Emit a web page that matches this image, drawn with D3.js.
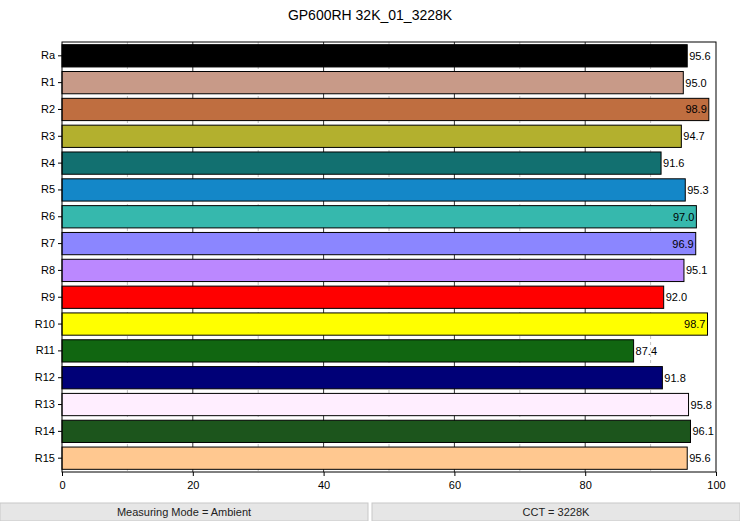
<!DOCTYPE html>
<html><head><meta charset="utf-8">
<script src="https://cdn.jsdelivr.net/npm/d3@7"></script>
<style>body{margin:0;background:#fff;font-family:"Helvetica Neue",Arial,"Liberation Sans",sans-serif}</style>
</head><body>
<svg id="c" width="740" height="521"></svg>
<script>
var names = ["Ra","R1","R2","R3","R4","R5","R6","R7","R8","R9","R10","R11","R12","R13","R14","R15"];
var values = [95.6,95.0,98.9,94.7,91.6,95.3,97.0,96.9,95.1,92.0,98.7,87.4,91.8,95.8,96.1,95.6];
var colors = ["#000000","#c89a88","#bf6e40","#b3b02e","#127070","#1487c8","#36b8ad","#8b86ff","#bb88ff","#ff0000","#ffff00","#116611","#000077","#ffeeff","#1c551c","#ffc890"];
var ticks = [0,20,40,60,80,100];

var svg = d3.select("#c");
var m = {l:62, r:716, t:42, b:472};
var x = d3.scaleLinear().domain([0,100]).range([m.l, m.r]);
var y = d3.scaleBand().domain(names).range([m.t, m.b]).paddingInner(0.17).paddingOuter(0.1);

svg.append("text").attr("x",370).attr("y",20).attr("text-anchor","middle")
  .attr("font-size",14).text("GP600RH 32K_01_3228K");

var g = svg.append("g");
d3.range(10,100,10).forEach(function(v){
  g.append("line").attr("x1",x(v)).attr("x2",x(v)).attr("y1",m.t).attr("y2",m.b)
    .attr("stroke", v%20==0 ? "#000" : "#999").attr("stroke-width", v%20==0?0.8:0.6)
    .attr("stroke-dasharray", v%20==0 ? null : "3,3");
});

g.selectAll("rect.bar").data(values).enter().append("rect")
  .attr("x", x(0)).attr("y", function(d,i){return y(names[i]);})
  .attr("width", function(d){return x(d)-x(0);}).attr("height", y.bandwidth())
  .attr("fill", function(d,i){return colors[i];}).attr("stroke","#000").attr("stroke-width",1);

g.selectAll("text.val").data(values).enter().append("text")
  .attr("x", function(d){return d>96.5 ? x(d)-2 : x(d)+2;})
  .attr("text-anchor", function(d){return d>96.5 ? "end" : "start";})
  .attr("y", function(d,i){return y(names[i])+y.bandwidth()/2+4;})
  .attr("font-size",11).text(function(d){return d.toFixed(1);});

svg.append("rect").attr("x",m.l).attr("y",m.t).attr("width",m.r-m.l).attr("height",m.b-m.t)
  .attr("fill","none").attr("stroke","#000");

svg.append("g").attr("transform","translate(0,"+m.b+")")
  .call(d3.axisBottom(x).tickValues(ticks).tickSize(4).tickFormat(d3.format("d")))
  .call(function(a){a.select(".domain").remove(); a.selectAll("text").attr("font-size",11).attr("dy","0.9em");});
svg.append("g").attr("transform","translate("+m.l+",0)")
  .call(d3.axisLeft(y).tickSize(4))
  .call(function(a){a.select(".domain").remove(); a.selectAll("text").attr("font-size",11).attr("fill","#000");});

[[0,368,"Measuring Mode = Ambient"],[372,740,"CCT = 3228K"]].forEach(function(f){
  svg.append("rect").attr("x",f[0]).attr("y",503).attr("width",f[1]-f[0]).attr("height",18)
    .attr("fill","#e6e6e6").attr("stroke","#c8c8c8");
  svg.append("text").attr("x",(f[0]+f[1])/2).attr("y",516).attr("text-anchor","middle")
    .attr("font-size",11).attr("fill","#222").text(f[2]);
});
</script>
</body></html>
